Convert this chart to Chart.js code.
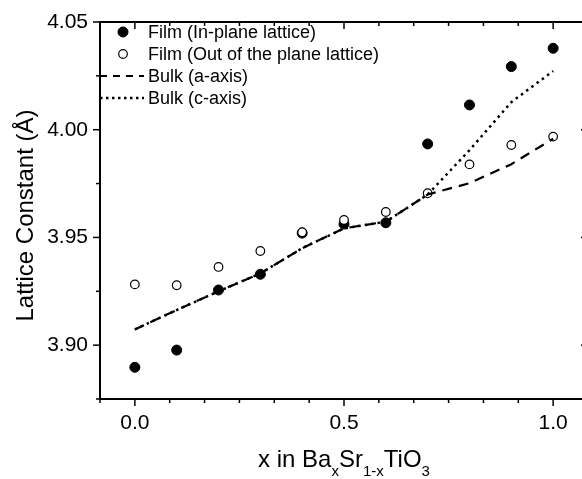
<!DOCTYPE html>
<html>
<head>
<meta charset="utf-8">
<script src="https://cdn.jsdelivr.net/npm/chart.js@4/dist/chart.umd.min.js"></script>
<style>
  html, body { margin: 0; padding: 0; background: #fff; overflow: hidden; }
  #wrap { width: 600px; height: 479px; }
</style>
</head>
<body>
<div id="wrap"><canvas id="lattice" width="600" height="479"></canvas></div>
<script>
// composition x and measured lattice constants
const xValues = [0.0, 0.1, 0.2, 0.3, 0.4, 0.5, 0.6, 0.7, 0.8, 0.9, 1.0];
const filmInPlane = [3.8897, 3.8977, 3.9256, 3.9329, 3.9520, 3.9562, 3.9568, 3.9934, 4.0115, 4.0293, 4.0378];
const filmOutPlane = [3.9282, 3.9278, 3.9363, 3.9437, 3.9524, 3.9581, 3.9618, 3.9705, 3.9839, 3.9929, 3.9968];
const bulkA = [3.9073, 3.9163, 3.9250, 3.9333, 3.9450, 3.9542, 3.9573, 3.9699, 3.9752, 3.9840, 3.9958];
const bulkC = [3.9073, 3.9163, 3.9250, 3.9333, 3.9450, 3.9542, 3.9573, 3.9699, 3.9905, 4.0128, 4.0272];

const seriesLabels = ['Film (In-plane lattice)', 'Film (Out of the plane lattice)', 'Bulk (a-axis)', 'Bulk (c-axis)'];

// axes
const xTicks = [0.0, 0.5, 1.0];
const xMinorTicks = [-1/12, 1/12, 2/12, 3/12, 4/12, 5/12, 7/12, 8/12, 9/12, 10/12, 11/12, 13/12];
const yTicks = [3.90, 3.95, 4.00, 4.05];
const yMinorTicks = [3.875, 3.925, 3.975, 4.025];
const xRange = [-1/12, 13/12];
const yRange = [3.875, 4.05];

const FONT = "'Liberation Sans', Arial, sans-serif";
const toPts = (ys) => ys.map((v, i) => ({ x: xValues[i], y: v }));

// frame, minor ticks, titles, legend
const originFrame = {
    id: 'originFrame',
    afterDraw(chart) {
        const { ctx, chartArea: a, scales: { x, y } } = chart;
        ctx.save();
        ctx.strokeStyle = '#000';
        ctx.lineWidth = 2;
        ctx.setLineDash([]);
        ctx.strokeRect(a.left, a.top, a.right - a.left, a.bottom - a.top);

        ctx.lineWidth = 1.5;
        const tick = (x1, y1, x2, y2) => { ctx.beginPath(); ctx.moveTo(x1, y1); ctx.lineTo(x2, y2); ctx.stroke(); };
        xTicks.forEach(v => {
            const px = x.getPixelForValue(v);
            tick(px, a.bottom, px, a.bottom + 7);
            tick(px, a.top, px, a.top + 7);
        });
        xMinorTicks.forEach(v => {
            const px = x.getPixelForValue(v);
            tick(px, a.bottom, px, a.bottom + 4);
            tick(px, a.top, px, a.top + 4);
        });
        yTicks.forEach(v => {
            const py = y.getPixelForValue(v);
            tick(a.left - 7, py, a.left, py);
            tick(a.right - 7, py, a.right, py);
        });
        yMinorTicks.forEach(v => {
            const py = y.getPixelForValue(v);
            tick(a.left - 4, py, a.left, py);
            tick(a.right - 4, py, a.right, py);
        });

        // y title
        ctx.fillStyle = '#000';
        ctx.save();
        ctx.translate(33, (a.top + a.bottom) / 2 + 5);
        ctx.rotate(-Math.PI / 2);
        ctx.font = `24px ${FONT}`;
        ctx.textAlign = 'center';
        ctx.textBaseline = 'alphabetic';
        ctx.fillText('Lattice Constant (Å)', 0, 0);
        ctx.restore();

        // x title with subscripts
        const parts = [['x in Ba', 0], ['x', 1], ['Sr', 0], ['1-x', 1], ['TiO', 0], ['3', 1]];
        let total = 0;
        parts.forEach(([t, sub]) => { ctx.font = `${sub ? 15 : 24}px ${FONT}`; total += ctx.measureText(t).width; });
        let cx = x.getPixelForValue(0.5) - total / 2;
        ctx.textAlign = 'left';
        parts.forEach(([t, sub]) => {
            ctx.font = `${sub ? 15 : 24}px ${FONT}`;
            ctx.fillText(t, cx, sub ? 476 : 467);
            cx += ctx.measureText(t).width;
        });

        // legend
        ctx.font = `18px ${FONT}`;
        ctx.textBaseline = 'middle';
        chart.data.datasets.forEach((ds, i) => {
            const ry = 32 + 22 * i;
            if (ds.pointRadius > 0) {
                ctx.setLineDash([]);
                ctx.beginPath();
                ctx.arc(123, ry, ds.pointRadius, 0, Math.PI * 2);
                ctx.fillStyle = ds.backgroundColor;
                ctx.fill();
                ctx.lineWidth = ds.borderWidth;
                ctx.strokeStyle = ds.borderColor;
                ctx.stroke();
            } else {
                ctx.setLineDash(ds.legendDash);
                ctx.lineWidth = ds.borderWidth;
                ctx.strokeStyle = ds.borderColor;
                ctx.beginPath();
                ctx.moveTo(a.left, ry);
                ctx.lineTo(144, ry);
                ctx.stroke();
                ctx.setLineDash([]);
            }
            ctx.fillStyle = '#000';
            ctx.fillText(ds.label, 148, ry + 1);
        });
        ctx.restore();
    }
};

new Chart(document.getElementById('lattice'), {
    type: 'scatter',
    data: {
        datasets: [
            { label: seriesLabels[0], data: toPts(filmInPlane), order: 3,
              pointRadius: 5, pointHoverRadius: 5, backgroundColor: '#000', borderColor: '#000', borderWidth: 1 },
            { label: seriesLabels[1], data: toPts(filmOutPlane), order: 2,
              pointRadius: 4.3, pointHoverRadius: 4.3, backgroundColor: '#fff', borderColor: '#000', borderWidth: 1.2 },
            { label: seriesLabels[2], data: toPts(bulkA), order: 1, showLine: true,
              pointRadius: 0, borderColor: '#000', borderWidth: 2.2, borderDash: [10, 7], legendDash: [7, 6] },
            { label: seriesLabels[3], data: toPts(bulkC), order: 0, showLine: true,
              pointRadius: 0, borderColor: '#000', borderWidth: 2.5, borderDash: [2.5, 4], legendDash: [2.5, 3.5] }
        ]
    },
    options: {
        responsive: false,
        animation: false,
        layout: { padding: { top: 22, right: 12, left: 0, bottom: 0 } },
        plugins: { legend: { display: false }, tooltip: { enabled: false } },
        scales: {
            x: {
                type: 'linear', min: xRange[0], max: xRange[1],
                afterBuildTicks: (axis) => { axis.ticks = xTicks.map(v => ({ value: v })); },
                afterFit: (axis) => { axis.height = 80; },
                grid: { display: false },
                border: { display: false },
                ticks: { color: '#000', padding: 4, maxRotation: 0, font: { family: FONT, size: 21 },
                         callback: (v) => Number(v).toFixed(1) }
            },
            y: {
                type: 'linear', min: yRange[0], max: yRange[1],
                afterBuildTicks: (axis) => { axis.ticks = yTicks.map(v => ({ value: v })); },
                afterFit: (axis) => { axis.width = 100; },
                grid: { display: false },
                border: { display: false },
                ticks: { color: '#000', padding: 4, font: { family: FONT, size: 21 },
                         callback: (v) => Number(v).toFixed(2) }
            }
        }
    },
    plugins: [originFrame]
});
</script>
</body>
</html>
